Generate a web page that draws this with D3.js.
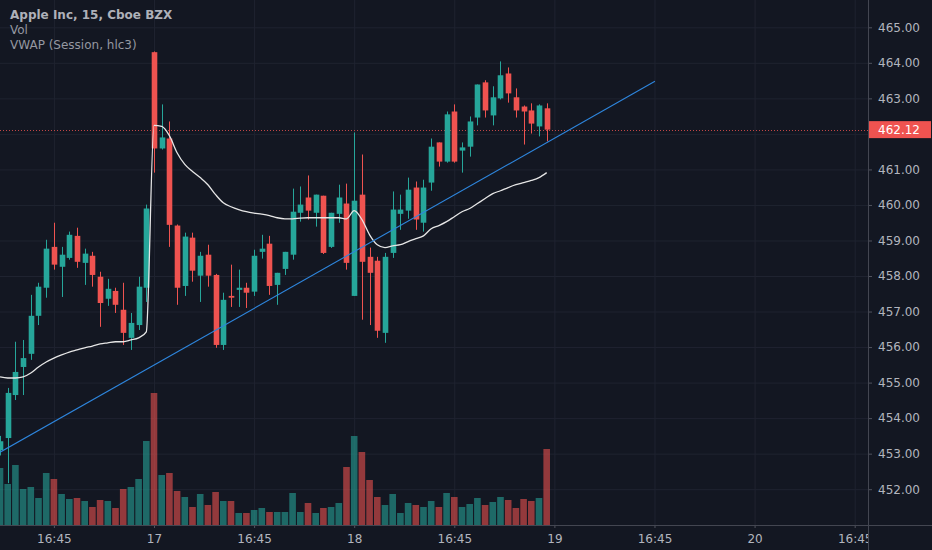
<!DOCTYPE html>
<html>
<head>
<meta charset="utf-8">
<script src="https://cdnjs.cloudflare.com/ajax/libs/d3/7.8.5/d3.min.js"></script>
<style>
    html, body { margin: 0; padding: 0; background: #131722; overflow: hidden; }
    #chart { width: 932px; height: 550px; }
    text { font-family: "DejaVu Sans", sans-serif; }
</style>
</head>
<body>
<div id="chart"></div>
<script>
// 15 min bars, AAPL, last 20 bars of the 16th + sessions of the 17th and 18th
var opens = [453.10, 453.44, 454.65, 455.44, 455.81, 456.88, 457.67, 458.82, 458.26, 458.51,
    459.13, 458.37, 458.57, 457.98, 457.36, 457.58, 457.05, 456.26, 456.62, 457.67,
    464.30, 461.59, 461.87, 459.42, 457.72, 459.08, 458.01, 458.60, 458.03, 456.06,
    457.44, 457.61, 457.67, 457.56, 458.68, 458.91, 457.75, 458.20, 458.60, 459.78,
    460.21, 459.78, 460.26, 458.82, 459.75, 460.04, 457.44, 460.29, 458.54, 458.43,
    456.40, 458.65, 459.75, 459.84, 460.49, 459.50, 460.63, 461.76, 461.22, 462.63,
    461.53, 461.64, 462.46, 463.45, 462.52, 463.00, 463.70, 463.03, 462.77, 462.66,
    462.21, 462.72];
var highs = [453.50, 454.85, 456.15, 456.20, 457.47, 457.81, 459.02, 459.50, 458.82, 459.25,
    459.36, 458.77, 458.68, 458.12, 457.92, 457.67, 457.81, 456.96, 457.98, 460.01,
    464.32, 462.83, 462.35, 459.45, 459.22, 459.22, 458.68, 458.88, 458.06, 457.53,
    458.32, 458.18, 457.81, 458.74, 459.16, 459.13, 458.09, 458.68, 460.46, 460.52,
    460.83, 460.29, 460.26, 459.78, 460.57, 460.60, 462.04, 461.42, 458.80, 458.54,
    458.65, 460.38, 460.29, 460.77, 460.66, 460.71, 461.87, 461.76, 462.63, 462.83,
    461.76, 462.49, 463.39, 463.51, 463.34, 464.04, 463.87, 463.28, 462.80, 462.86,
    462.83, 462.86];
var lows = [452.95, 452.17, 454.51, 454.65, 455.64, 456.62, 457.39, 458.18, 457.41, 458.46,
    458.23, 457.75, 457.70, 456.57, 457.16, 456.96, 456.06, 455.92, 456.48, 457.27,
    460.91, 461.56, 458.82, 457.19, 457.44, 457.84, 457.27, 457.70, 455.98, 455.92,
    457.13, 457.13, 457.10, 457.44, 458.49, 457.47, 457.19, 458.03, 458.46, 459.53,
    459.59, 459.39, 458.62, 458.79, 459.50, 458.18, 457.44, 456.77, 456.62, 456.26,
    456.12, 458.51, 459.30, 459.61, 459.30, 459.25, 460.40, 461.08, 461.19, 461.19,
    460.91, 461.36, 462.24, 462.46, 462.24, 462.97, 462.88, 462.46, 461.70, 462.01,
    461.93, 461.79];
var closes = [453.35, 454.71, 455.30, 455.69, 456.88, 457.70, 458.77, 458.32, 458.60, 459.16,
    458.40, 458.63, 458.03, 457.24, 457.64, 457.19, 456.40, 456.68, 457.70, 459.90,
    461.59, 461.90, 459.44, 457.67, 459.11, 458.15, 458.57, 458.01, 456.06, 457.33,
    457.39, 457.67, 457.53, 458.57, 458.77, 457.72, 458.09, 458.68, 459.81, 460.01,
    459.84, 460.29, 458.65, 459.78, 460.21, 458.37, 460.12, 458.40, 458.09, 456.46,
    458.54, 459.87, 459.87, 460.43, 459.59, 460.49, 461.64, 461.22, 462.55, 461.22,
    461.62, 462.35, 463.39, 462.66, 463.03, 463.65, 463.14, 462.66, 462.63, 462.29,
    462.80, 462.12];
var volumes = [57, 41, 60, 36, 38, 27, 52, 46, 31, 26,
    27, 24, 18, 25, 24, 17, 36, 38, 46, 84,
    132, 50, 52, 34, 28, 18, 31, 20, 33, 24,
    24, 12, 12, 15, 17, 13, 13, 13, 32, 13,
    22, 12, 17, 18, 22, 58, 89, 73, 45, 28,
    20, 31, 12, 22, 20, 18, 24, 18, 32, 28,
    18, 21, 27, 20, 23, 28, 25, 17, 26, 24,
    27, 76];
// session VWAP (hlc3)
var vwap = [455.16, 455.13, 455.13, 455.16, 455.27, 455.44, 455.58, 455.69, 455.78, 455.86,
    455.92, 455.98, 456.03, 456.09, 456.12, 456.15, 456.15, 456.20, 456.26, 456.43,
    462.24, 462.21, 461.95, 461.47, 461.14, 460.94, 460.77, 460.57, 460.29, 460.06,
    459.95, 459.87, 459.81, 459.77, 459.74, 459.70, 459.64, 459.61, 459.61, 459.63,
    459.64, 459.64, 459.64, 459.64, 459.64, 459.61, 459.84, 459.59, 459.16, 458.88,
    458.80, 458.85, 458.88, 458.97, 459.05, 459.13, 459.33, 459.42, 459.53, 459.67,
    459.81, 459.90, 460.04, 460.18, 460.32, 460.40, 460.49, 460.57, 460.63, 460.69,
    460.77, 460.91];
// drawn trend line (bar index, price)
var trendBars = [0, 85.06];
var trendPrices = [453.04, 463.48];

var priceTicks = d3.range(452, 466);
var tickBars = [7, 20, 33, 46, 59, 72, 85, 98, 111];
var tickLabels = ["16:45", "17", "16:45", "18", "16:45", "19", "16:45", "20", "16:45"];
var legendLines = ["Apple Inc, 15, Cboe BZX", "Vol", "VWAP (Session, hlc3)"];

var upColor = "#26a69a", downColor = "#ef5350";
var width = 932, height = 550, plotW = 868, plotH = 525;

var svg = d3.select("#chart").append("svg")
    .attr("width", width)
    .attr("height", height);

svg.append("rect")
    .attr("width", width)
    .attr("height", height)
    .attr("fill", "#131722");

var xScale = d3.scaleLinear().domain([0, 112.73]).range([0, plotW]);
var yScale = d3.scaleLinear().domain([452, 465]).range([489.2, 27.3]);
var vScale = d3.scaleLinear().domain([0, d3.max(volumes)]).range([plotH, 393]);

var lastClose = closes[closes.length - 1];
var lastY = yScale(lastClose);
// the last price badge hides the tick label it sits on
var labelTicks = priceTicks.filter(function (p) {
    return Math.abs(yScale(p) - lastY) > 14;
});

var defs = svg.append("defs");
defs.append("clipPath")
    .attr("id", "plotClip")
    .append("rect")
    .attr("width", plotW)
    .attr("height", plotH);
defs.append("clipPath")
    .attr("id", "timeClip")
    .append("rect")
    .attr("width", plotW)
    .attr("height", 30);

// grid
var grid = svg.append("g").attr("clip-path", "url(#plotClip)");
grid.append("g")
    .call(d3.axisLeft(yScale).tickValues(priceTicks).tickSize(-plotW).tickFormat(""))
    .call(function (g) {
        g.select(".domain").remove();
        g.selectAll("line").attr("stroke", "#1f2330");
    });
grid.append("g")
    .attr("transform", "translate(0," + plotH + ")")
    .call(d3.axisBottom(xScale).tickValues(tickBars).tickSize(-plotH).tickFormat(""))
    .call(function (g) {
        g.select(".domain").remove();
        g.selectAll("line").attr("stroke", "#1f2330");
    });

var plot = svg.append("g").attr("clip-path", "url(#plotClip)");
var bars = d3.range(opens.length);

function barColor(i) {
    return closes[i] >= opens[i] ? upColor : downColor;
}

// volume
plot.selectAll(".vol")
    .data(bars)
    .enter()
    .append("rect")
    .attr("class", "vol")
    .attr("x", function (i) { return xScale(i) - 3.3; })
    .attr("y", function (i) { return vScale(volumes[i]); })
    .attr("width", 6.6)
    .attr("height", function (i) { return plotH - vScale(volumes[i]); })
    .attr("fill", barColor)
    .attr("fill-opacity", 0.58);

// last price line
plot.append("line")
    .attr("x1", 0)
    .attr("x2", plotW)
    .attr("y1", Math.round(lastY) + 0.5)
    .attr("y2", Math.round(lastY) + 0.5)
    .attr("stroke", downColor)
    .attr("stroke-opacity", 0.8)
    .attr("stroke-dasharray", "1,2");

// candles
plot.selectAll(".wick")
    .data(bars)
    .enter()
    .append("line")
    .attr("class", "wick")
    .attr("x1", function (i) { return Math.round(xScale(i)) + 0.5; })
    .attr("x2", function (i) { return Math.round(xScale(i)) + 0.5; })
    .attr("y1", function (i) { return yScale(highs[i]); })
    .attr("y2", function (i) { return yScale(lows[i]); })
    .attr("stroke", barColor)
    .attr("stroke-width", 1);

plot.selectAll(".body")
    .data(bars)
    .enter()
    .append("rect")
    .attr("class", "body")
    .attr("x", function (i) { return Math.round(xScale(i)) + 0.5 - 2.8; })
    .attr("y", function (i) { return yScale(Math.max(opens[i], closes[i])); })
    .attr("width", 5.6)
    .attr("height", function (i) {
        return Math.max(1, Math.abs(yScale(opens[i]) - yScale(closes[i])));
    })
    .attr("fill", barColor);

// vwap
var vwapLine = d3.line()
    .x(function (i) { return xScale(i); })
    .y(function (i) { return yScale(vwap[i]); })
    .curve(d3.curveMonotoneX);

plot.append("path")
    .attr("d", vwapLine(bars))
    .attr("fill", "none")
    .attr("stroke", "#e6e6e6")
    .attr("stroke-width", 1.3);

// trend line
plot.append("line")
    .attr("x1", xScale(trendBars[0]))
    .attr("y1", yScale(trendPrices[0]))
    .attr("x2", xScale(trendBars[1]))
    .attr("y2", yScale(trendPrices[1]))
    .attr("stroke", "#2e86de")
    .attr("stroke-width", 1.1);

// time axis
svg.append("g")
    .attr("transform", "translate(0," + plotH + ")")
    .attr("clip-path", "url(#timeClip)")
    .call(d3.axisBottom(xScale)
        .tickValues(tickBars)
        .tickSize(3)
        .tickPadding(6)
        .tickFormat(function (d, i) { return tickLabels[i]; }))
    .call(function (g) {
        g.select(".domain").remove();
        g.selectAll("line").attr("stroke", "#50535e");
        g.selectAll("text")
            .attr("fill", "#b2b5be")
            .style("font-size", "12px");
    });

// price axis
svg.append("g")
    .attr("transform", "translate(" + plotW + ",0)")
    .call(d3.axisRight(yScale)
        .tickValues(labelTicks)
        .tickSize(4)
        .tickPadding(6)
        .tickFormat(d3.format(".2f")))
    .call(function (g) {
        g.select(".domain").remove();
        g.selectAll("line").attr("stroke", "#50535e");
        g.selectAll("text")
            .attr("fill", "#b2b5be")
            .style("font-size", "12px");
    });

// borders
svg.append("line")
    .attr("x1", plotW + 0.5).attr("x2", plotW + 0.5)
    .attr("y1", 0).attr("y2", height)
    .attr("stroke", "#434651");
svg.append("line")
    .attr("x1", 0).attr("x2", width)
    .attr("y1", plotH + 0.5).attr("y2", plotH + 0.5)
    .attr("stroke", "#434651");

// last price label
svg.append("rect")
    .attr("x", plotW + 1)
    .attr("y", lastY - 8.5)
    .attr("width", width - plotW - 2)
    .attr("height", 17)
    .attr("fill", downColor);
svg.append("text")
    .attr("x", plotW + 10)
    .attr("y", lastY)
    .attr("dy", "0.35em")
    .attr("fill", "#ffffff")
    .style("font-size", "12px")
    .text(d3.format(".2f")(lastClose));

// legend
svg.selectAll(".legend")
    .data(legendLines)
    .enter()
    .append("text")
    .attr("class", "legend")
    .attr("x", 10)
    .attr("y", function (d, i) { return 18.5 + i * 15; })
    .attr("fill", function (d, i) { return i == 0 ? "#aeb1b9" : "#9598a1"; })
    .style("font-size", "12px")
    .style("font-weight", function (d, i) { return i == 0 ? "bold" : "normal"; })
    .text(function (d) { return d; });
</script>
</body>
</html>
